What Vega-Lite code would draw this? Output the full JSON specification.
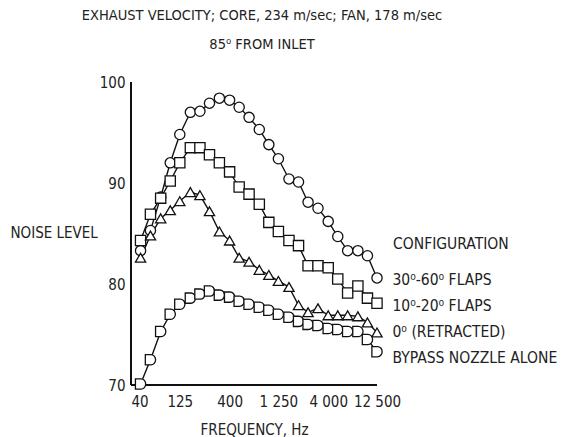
{
  "$schema": "https://vega.github.io/schema/vega-lite/v6.json",
  "width": 246,
  "height": 303,
  "autosize": {"type": "none"},
  "padding": {"left": 131, "top": 82, "right": 189, "bottom": 52},
  "background": "white",
  "config": {
    "font": "DejaVu Sans Condensed",
    "view": {"stroke": null}
  },
  "title": {
    "text": ["EXHAUST VELOCITY; CORE, 234 m/sec; FAN, 178 m/sec", "85⁰ FROM INLET"],
    "fontSize": 14.5,
    "fontWeight": "normal",
    "font": "DejaVu Sans Condensed",
    "color": "#222",
    "lineHeight": 29,
    "anchor": "middle",
    "frame": "group",
    "dx": 8,
    "offset": 23
  },
  "data": {
    "values": [
      {"f": 50, "v": 83.3, "c": "30⁰-60⁰ FLAPS"}, {"f": 63, "v": 85.3, "c": "30⁰-60⁰ FLAPS"}, {"f": 80, "v": 88.6, "c": "30⁰-60⁰ FLAPS"}, {"f": 100, "v": 92.0, "c": "30⁰-60⁰ FLAPS"}, {"f": 125, "v": 94.8, "c": "30⁰-60⁰ FLAPS"},
      {"f": 160, "v": 97.0, "c": "30⁰-60⁰ FLAPS"}, {"f": 200, "v": 97.1, "c": "30⁰-60⁰ FLAPS"}, {"f": 250, "v": 97.9, "c": "30⁰-60⁰ FLAPS"}, {"f": 315, "v": 98.4, "c": "30⁰-60⁰ FLAPS"}, {"f": 400, "v": 98.2, "c": "30⁰-60⁰ FLAPS"},
      {"f": 500, "v": 97.5, "c": "30⁰-60⁰ FLAPS"}, {"f": 630, "v": 96.5, "c": "30⁰-60⁰ FLAPS"}, {"f": 800, "v": 95.3, "c": "30⁰-60⁰ FLAPS"}, {"f": 1000, "v": 93.8, "c": "30⁰-60⁰ FLAPS"}, {"f": 1250, "v": 92.4, "c": "30⁰-60⁰ FLAPS"},
      {"f": 1600, "v": 90.4, "c": "30⁰-60⁰ FLAPS"}, {"f": 2000, "v": 90.1, "c": "30⁰-60⁰ FLAPS"}, {"f": 2500, "v": 88.1, "c": "30⁰-60⁰ FLAPS"}, {"f": 3150, "v": 87.5, "c": "30⁰-60⁰ FLAPS"}, {"f": 4000, "v": 86.2, "c": "30⁰-60⁰ FLAPS"},
      {"f": 5000, "v": 84.7, "c": "30⁰-60⁰ FLAPS"}, {"f": 6300, "v": 83.3, "c": "30⁰-60⁰ FLAPS"}, {"f": 8000, "v": 83.3, "c": "30⁰-60⁰ FLAPS"}, {"f": 10000, "v": 82.8, "c": "30⁰-60⁰ FLAPS"}, {"f": 12500, "v": 80.6, "c": "30⁰-60⁰ FLAPS"},

      {"f": 50, "v": 84.3, "c": "10⁰-20⁰ FLAPS"}, {"f": 63, "v": 86.9, "c": "10⁰-20⁰ FLAPS"}, {"f": 80, "v": 88.5, "c": "10⁰-20⁰ FLAPS"}, {"f": 100, "v": 90.2, "c": "10⁰-20⁰ FLAPS"}, {"f": 125, "v": 92.0, "c": "10⁰-20⁰ FLAPS"},
      {"f": 160, "v": 93.5, "c": "10⁰-20⁰ FLAPS"}, {"f": 200, "v": 93.5, "c": "10⁰-20⁰ FLAPS"}, {"f": 250, "v": 92.8, "c": "10⁰-20⁰ FLAPS"}, {"f": 315, "v": 92.0, "c": "10⁰-20⁰ FLAPS"}, {"f": 400, "v": 91.1, "c": "10⁰-20⁰ FLAPS"},
      {"f": 500, "v": 89.6, "c": "10⁰-20⁰ FLAPS"}, {"f": 630, "v": 88.9, "c": "10⁰-20⁰ FLAPS"}, {"f": 800, "v": 87.9, "c": "10⁰-20⁰ FLAPS"}, {"f": 1000, "v": 86.1, "c": "10⁰-20⁰ FLAPS"}, {"f": 1250, "v": 85.2, "c": "10⁰-20⁰ FLAPS"},
      {"f": 1600, "v": 84.3, "c": "10⁰-20⁰ FLAPS"}, {"f": 2000, "v": 83.8, "c": "10⁰-20⁰ FLAPS"}, {"f": 2500, "v": 81.8, "c": "10⁰-20⁰ FLAPS"}, {"f": 3150, "v": 81.8, "c": "10⁰-20⁰ FLAPS"}, {"f": 4000, "v": 81.6, "c": "10⁰-20⁰ FLAPS"},
      {"f": 5000, "v": 80.5, "c": "10⁰-20⁰ FLAPS"}, {"f": 6300, "v": 79.1, "c": "10⁰-20⁰ FLAPS"}, {"f": 8000, "v": 79.8, "c": "10⁰-20⁰ FLAPS"}, {"f": 10000, "v": 78.6, "c": "10⁰-20⁰ FLAPS"}, {"f": 12500, "v": 78.1, "c": "10⁰-20⁰ FLAPS"},

      {"f": 50, "v": 82.6, "c": "0⁰ (RETRACTED)"}, {"f": 63, "v": 84.8, "c": "0⁰ (RETRACTED)"}, {"f": 80, "v": 86.5, "c": "0⁰ (RETRACTED)"}, {"f": 100, "v": 87.3, "c": "0⁰ (RETRACTED)"}, {"f": 125, "v": 88.2, "c": "0⁰ (RETRACTED)"},
      {"f": 160, "v": 89.1, "c": "0⁰ (RETRACTED)"}, {"f": 200, "v": 88.8, "c": "0⁰ (RETRACTED)"}, {"f": 250, "v": 87.2, "c": "0⁰ (RETRACTED)"}, {"f": 315, "v": 85.2, "c": "0⁰ (RETRACTED)"}, {"f": 400, "v": 84.3, "c": "0⁰ (RETRACTED)"},
      {"f": 500, "v": 82.6, "c": "0⁰ (RETRACTED)"}, {"f": 630, "v": 82.2, "c": "0⁰ (RETRACTED)"}, {"f": 800, "v": 81.4, "c": "0⁰ (RETRACTED)"}, {"f": 1000, "v": 80.9, "c": "0⁰ (RETRACTED)"}, {"f": 1250, "v": 80.3, "c": "0⁰ (RETRACTED)"},
      {"f": 1600, "v": 79.7, "c": "0⁰ (RETRACTED)"}, {"f": 2000, "v": 77.9, "c": "0⁰ (RETRACTED)"}, {"f": 2500, "v": 77.2, "c": "0⁰ (RETRACTED)"}, {"f": 3150, "v": 77.6, "c": "0⁰ (RETRACTED)"}, {"f": 4000, "v": 76.9, "c": "0⁰ (RETRACTED)"},
      {"f": 5000, "v": 76.9, "c": "0⁰ (RETRACTED)"}, {"f": 6300, "v": 76.9, "c": "0⁰ (RETRACTED)"}, {"f": 8000, "v": 76.8, "c": "0⁰ (RETRACTED)"}, {"f": 10000, "v": 76.2, "c": "0⁰ (RETRACTED)"}, {"f": 12500, "v": 75.2, "c": "0⁰ (RETRACTED)"},

      {"f": 50, "v": 70.1, "c": "BYPASS NOZZLE ALONE"}, {"f": 63, "v": 72.5, "c": "BYPASS NOZZLE ALONE"}, {"f": 80, "v": 75.3, "c": "BYPASS NOZZLE ALONE"}, {"f": 100, "v": 77.0, "c": "BYPASS NOZZLE ALONE"}, {"f": 125, "v": 78.0, "c": "BYPASS NOZZLE ALONE"},
      {"f": 160, "v": 78.6, "c": "BYPASS NOZZLE ALONE"}, {"f": 200, "v": 79.0, "c": "BYPASS NOZZLE ALONE"}, {"f": 250, "v": 79.3, "c": "BYPASS NOZZLE ALONE"}, {"f": 315, "v": 78.9, "c": "BYPASS NOZZLE ALONE"}, {"f": 400, "v": 78.7, "c": "BYPASS NOZZLE ALONE"},
      {"f": 500, "v": 78.3, "c": "BYPASS NOZZLE ALONE"}, {"f": 630, "v": 78.0, "c": "BYPASS NOZZLE ALONE"}, {"f": 800, "v": 77.7, "c": "BYPASS NOZZLE ALONE"}, {"f": 1000, "v": 77.4, "c": "BYPASS NOZZLE ALONE"}, {"f": 1250, "v": 77.0, "c": "BYPASS NOZZLE ALONE"},
      {"f": 1600, "v": 76.7, "c": "BYPASS NOZZLE ALONE"}, {"f": 2000, "v": 76.3, "c": "BYPASS NOZZLE ALONE"}, {"f": 2500, "v": 76.0, "c": "BYPASS NOZZLE ALONE"}, {"f": 3150, "v": 75.9, "c": "BYPASS NOZZLE ALONE"}, {"f": 4000, "v": 75.6, "c": "BYPASS NOZZLE ALONE"},
      {"f": 5000, "v": 75.5, "c": "BYPASS NOZZLE ALONE"}, {"f": 6300, "v": 75.3, "c": "BYPASS NOZZLE ALONE"}, {"f": 8000, "v": 75.3, "c": "BYPASS NOZZLE ALONE"}, {"f": 10000, "v": 74.5, "c": "BYPASS NOZZLE ALONE"}, {"f": 12500, "v": 73.3, "c": "BYPASS NOZZLE ALONE"}
    ]
  },
  "encoding": {
    "x": {
      "field": "f", "type": "quantitative",
      "title": "FREQUENCY, Hz",
      "scale": {"type": "log", "domain": [40, 12500], "nice": false},
      "axis": {
        "title": "FREQUENCY, Hz",
        "values": [40, 125, 400, 1250, 4000, 12500],
        "labelExpr": "replace(format(datum.value, ','), ',', ' ')",
        "labelAlign": {"condition": {"test": "datum.value == 40", "value": "left"}, "value": "center"},
        "domain": false,
        "grid": false,
        "ticks": false,
        "labelPadding": 9,
        "titlePadding": 13,
        "labelFlush": false,
        "labelOverlap": false,
        "labelFontSize": 15,
        "titleFontSize": 15,
        "titleFontWeight": "normal",
        "labelColor": "#222",
        "titleColor": "#222",
        "labelFont": "DejaVu Sans Condensed",
        "titleFont": "DejaVu Sans Condensed"
      }
    },
    "y": {
      "field": "v", "type": "quantitative",
      "title": "NOISE LEVEL",
      "scale": {"domain": [70, 100], "nice": false, "zero": false},
      "axis": {
        "title": "NOISE LEVEL",
        "values": [70, 80, 90, 100],
        "domain": false,
        "grid": false,
        "ticks": false,
        "labelPadding": 6,
        "titleAngle": 0,
        "titleAlign": "left",
        "titleBaseline": "middle",
        "titleX": -121,
        "titleY": 150,
        "labelFlush": false,
        "labelFontSize": 15,
        "titleFontSize": 15,
        "titleFontWeight": "normal",
        "labelColor": "#222",
        "titleColor": "#222",
        "labelFont": "DejaVu Sans Condensed",
        "titleFont": "DejaVu Sans Condensed"
      }
    }
  },
  "layer": [
    {
      "mark": {"type": "rule", "color": "#111", "strokeWidth": 1.3},
      "encoding": {"x": {"datum": 40}, "y": {"datum": 70}, "y2": {"datum": 100}}
    },
    {
      "mark": {"type": "rule", "color": "#111", "strokeWidth": 1.3},
      "encoding": {"y": {"datum": 70}, "x": {"datum": 40}, "x2": {"datum": 12500}}
    },
    {
      "data": {"values": [{"t": 80}, {"t": 90}, {"t": 100}]},
      "mark": {"type": "rule", "color": "#111", "strokeWidth": 1.3},
      "encoding": {"y": {"field": "t", "type": "quantitative", "title": "NOISE LEVEL"}, "x": {"datum": 40}, "x2": {"datum": 50.5}}
    },
    {
      "data": {"values": [{"t": 125}, {"t": 400}, {"t": 1250}, {"t": 4000}, {"t": 12500}]},
      "mark": {"type": "rule", "color": "#111", "strokeWidth": 1.3},
      "encoding": {"x": {"field": "t", "type": "quantitative", "title": "FREQUENCY, Hz"}, "y": {"datum": 70}, "y2": {"datum": 71}}
    },
    {
      "mark": {"type": "line", "color": "#111", "strokeWidth": 1.4},
      "encoding": {"detail": {"field": "c"}}
    },
    {
      "mark": {"type": "point", "filled": true, "fill": "white", "stroke": "#111", "strokeWidth": 1.3, "size": 105, "opacity": 1},
      "encoding": {
        "shape": {
          "field": "c", "type": "nominal",
          "scale": {
            "domain": ["30⁰-60⁰ FLAPS", "10⁰-20⁰ FLAPS", "0⁰ (RETRACTED)", "BYPASS NOZZLE ALONE"],
            "range": ["circle", "square", "triangle-up", "M-1,-1H0.1A0.9,1,0,0,1,0.1,1H-1Z"]
          },
          "legend": {
            "title": "CONFIGURATION",
            "orient": "none",
            "legendX": 262,
            "legendY": 155,
            "padding": 0,
            "symbolOpacity": 0,
            "symbolSize": 0,
            "symbolStrokeWidth": 0,
            "labelOffset": -16,
            "rowPadding": 9,
            "titlePadding": 20,
            "labelFontSize": 15.5,
            "titleFontSize": 15.5,
            "titleFontWeight": "normal",
            "labelFont": "DejaVu Sans Condensed",
            "titleFont": "DejaVu Sans Condensed",
            "labelColor": "#222",
            "titleColor": "#222",
            "labelLimit": 300
          }
        }
      }
    }
  ]
}
